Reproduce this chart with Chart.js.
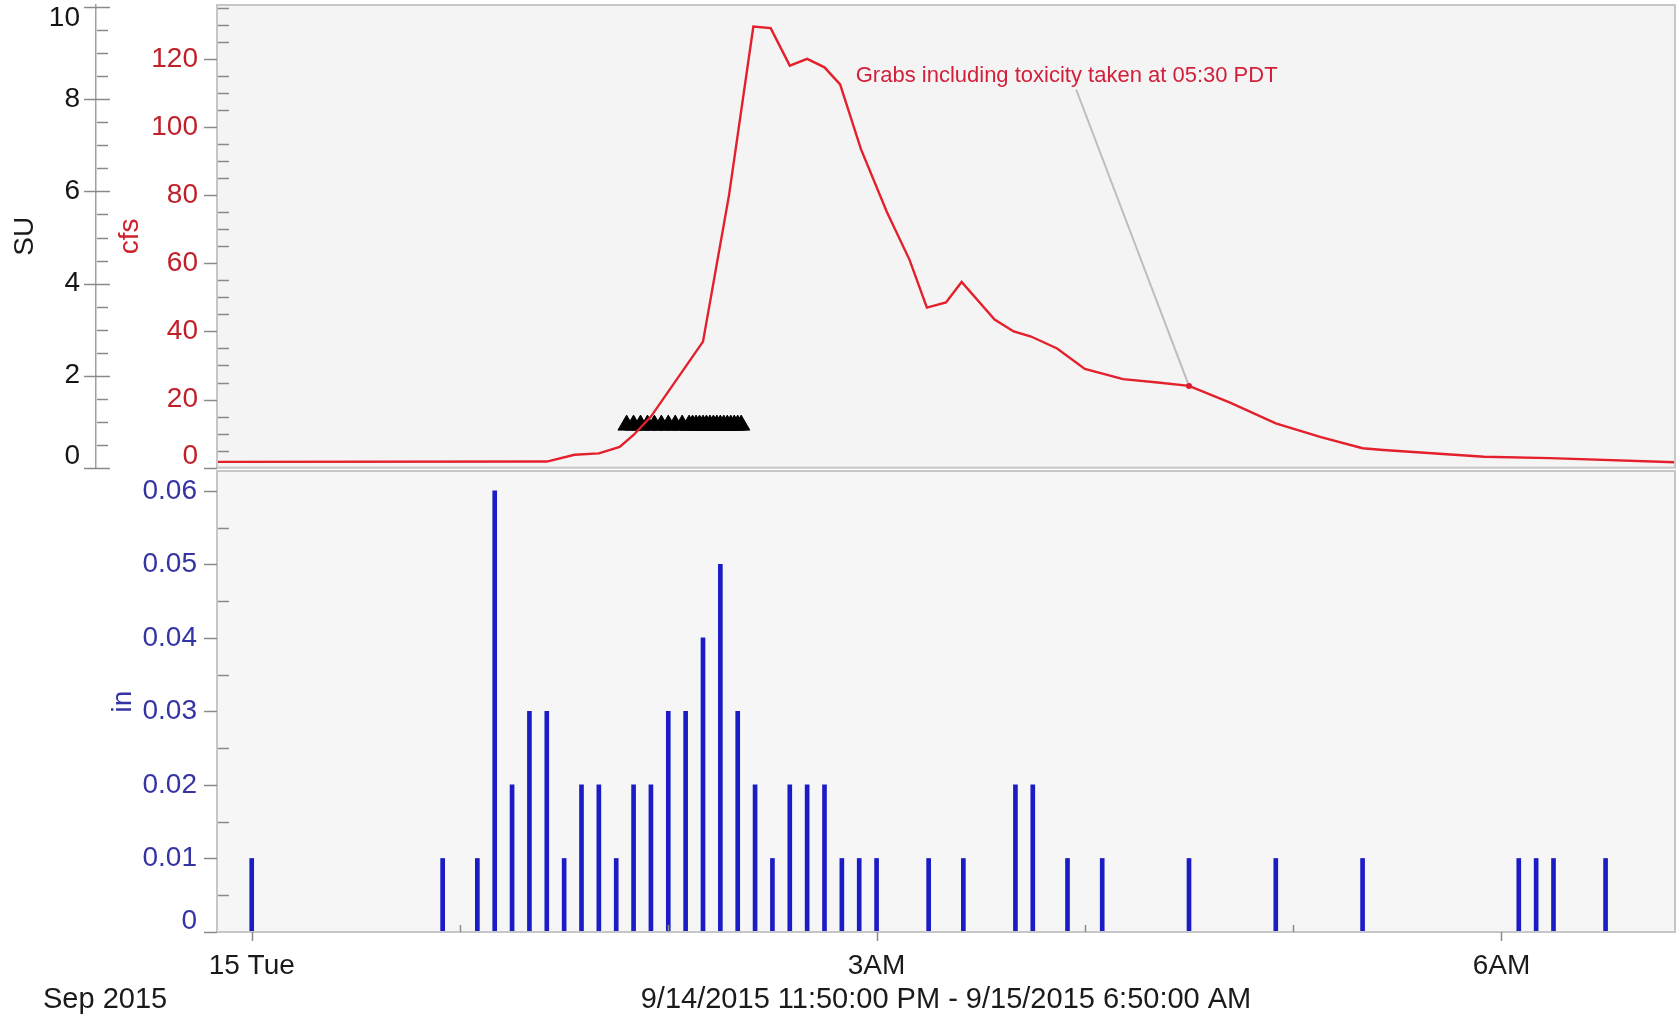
<!DOCTYPE html>
<html lang="en">
<head>
<meta charset="UTF-8">
<title>Flow and rainfall, 15 Sep 2015</title>
<script src="https://cdn.jsdelivr.net/npm/chart.js@4"></script>
<style>
    html, body { margin: 0; padding: 0; background: #fff; }
    body { width: 1678px; height: 1021px; position: relative; overflow: hidden; }
    canvas { position: absolute; left: 0; }
    #flowChart { top: 0; }
    #rainChart { top: 470px; }
</style>
</head>
<body>
<canvas id="flowChart" width="1678" height="470"></canvas>
<canvas id="rainChart" width="1678" height="551"></canvas>
<script>
// time is in minutes after midnight on 15 Sep (negative = 14 Sep)
const xRange = [-10, 410];
const xTickMinutes = [0, 180, 360];
const xTickLabels = ['15 Tue', '3AM', '6AM'];

// flow, cfs
const flowMinutes = [-10, 85, 93, 100, 106, 110, 115, 130, 137.5, 144.5,
    149.5, 155, 160, 165, 169.5, 175.5, 183, 189.5, 194.5, 200,
    204.5, 214, 219.5, 224.5, 232, 240, 251, 261, 270, 282,
    295, 308, 320, 326, 355, 374, 410];
const flowCfs = [1.7, 1.8, 3.8, 4.2, 6.1, 9.6, 15, 37, 80, 129.5,
    129, 118, 120, 117.5, 112.5, 93.5, 75, 61, 47, 48.5,
    54.5, 43.5, 40, 38.5, 35, 29, 26, 25, 24, 19,
    13, 9, 5.7, 5.2, 3.2, 2.8, 1.6];

// sampler events, shown as triangles
const sampleMinutes = [108, 110, 112, 114, 116, 118, 120, 122, 124, 126, 127, 128, 129,
    130, 131, 132, 133, 134, 135, 136, 137, 138, 139, 140, 141];
const sampleLevel = 12.5;

// 5-minute rainfall, inches
const rainTimes = ['00:00', '00:55', '01:05', '01:10', '01:15', '01:20', '01:25', '01:30',
    '01:35', '01:40', '01:45', '01:50', '01:55', '02:00', '02:05', '02:10', '02:15', '02:20',
    '02:25', '02:30', '02:35', '02:40', '02:45', '02:50', '02:55', '03:00', '03:15', '03:25',
    '03:40', '03:45', '03:55', '04:05', '04:30', '04:55', '05:20', '06:05', '06:10', '06:15', '06:30'];
const rainInches = [0.01, 0.01, 0.01, 0.06, 0.02, 0.03, 0.03, 0.01,
    0.02, 0.02, 0.01, 0.02, 0.02, 0.03, 0.03, 0.04, 0.05, 0.03,
    0.02, 0.01, 0.02, 0.02, 0.02, 0.01, 0.01, 0.01, 0.01, 0.01,
    0.02, 0.02, 0.01, 0.01, 0.01, 0.01, 0.01, 0.01, 0.01, 0.01, 0.01];

const suTicks = [0, 2, 4, 6, 8, 10];
const cfsTicks = [0, 20, 40, 60, 80, 100, 120];
const inTicks = [0, 0.01, 0.02, 0.03, 0.04, 0.05, 0.06];

// note on the flow panel
const grabNote = 'Grabs including toxicity taken at 05:30 PDT';
const grabMinute = 270;
const notePos = { t: 174, cfs: 115 };
const leaderStart = { t: 237.5, cfs: 111 };

const FONT = '"Liberation Sans", Arial, sans-serif';
const EDGE_SHIFT = 11;   // labels at the panel edges are pulled inside

function toMinutes(hhmm) {
    const [h, m] = hhmm.split(':').map(Number);
    const mins = h * 60 + m;
    return h >= 12 ? mins - 1440 : mins;
}

function fixedTicks(values) {
    return scale => { scale.ticks = values.map(v => ({ value: v })); };
}

// fix an axis box size and stop edge labels from shrinking the plot
function boxSize(prop, size) {
    return s => {
        s[prop] = size;
        s.paddingTop = 0;
        s.paddingBottom = 0;
        s.paddingLeft = 0;
        s.paddingRight = 0;
    };
}

// plot background and frame
const panelFrame = {
    id: 'panelFrame',
    beforeDraw(chart, args, opts) {
        const { ctx, chartArea: a } = chart;
        ctx.save();
        ctx.fillStyle = opts.fill;
        ctx.fillRect(a.left, a.top, a.right - a.left, a.bottom - a.top);
        ctx.restore();
    },
    afterDraw(chart) {
        const { ctx, chartArea: a } = chart;
        ctx.save();
        ctx.strokeStyle = '#c6c6c6';
        ctx.lineWidth = 2;
        ctx.strokeRect(a.left, a.top, a.right - a.left, a.bottom - a.top);
        ctx.restore();
    }
};

// tick marks: major ticks outside the axis line, minor ones inside
function yTicks(ctx, scale, major, minor, lineX, majorSpan, minorSpan) {
    ctx.lineWidth = 1.5;
    ctx.strokeStyle = '#8a8a8a';
    for (let v = scale.min; v <= scale.max + 1e-9; v += minor) {
        const y = Math.round(scale.getPixelForValue(v)) + 0.5;
        const isMajor = Math.abs(v / major - Math.round(v / major)) < 1e-6;
        const span = isMajor ? majorSpan : minorSpan;
        ctx.beginPath();
        ctx.moveTo(lineX + span[0], y);
        ctx.lineTo(lineX + span[1], y);
        ctx.stroke();
    }
}

// a y-axis label that sits at a panel edge, nudged inwards by dy
function edgeLabel(ctx, scale, value, dy) {
    const o = scale.options.ticks;
    ctx.fillStyle = o.color;
    ctx.font = o.font.size + 'px ' + FONT;
    ctx.textAlign = 'right';
    ctx.textBaseline = 'middle';
    ctx.fillText(String(value), scale.right - o.padding, scale.getPixelForValue(value) + dy);
}

const axisMarks = {
    id: 'axisMarks',
    afterDraw(chart) {
        const { ctx, scales } = chart;
        ctx.save();
        if (scales.su) {
            yTicks(ctx, scales.su, 2, 0.5, scales.su.right, [-12, 14], [1, 12]);
            yTicks(ctx, scales.cfs, 20, 5, scales.cfs.right, [-13, 0], [1, 12]);
            edgeLabel(ctx, scales.su, 0, -EDGE_SHIFT);
            edgeLabel(ctx, scales.su, 10, EDGE_SHIFT);
            edgeLabel(ctx, scales.cfs, 0, -EDGE_SHIFT);
        }
        if (scales.inch) {
            yTicks(ctx, scales.inch, 0.01, 0.005, scales.inch.right, [-13, 0], [1, 12]);
            edgeLabel(ctx, scales.inch, 0, -EDGE_SHIFT);
            const xs = scales.x;
            const base = chart.chartArea.bottom;
            ctx.strokeStyle = '#8a8a8a';
            ctx.lineWidth = 1.5;
            for (let t = 0; t <= xs.max; t += 60) {
                const x = Math.round(xs.getPixelForValue(t)) + 0.5;
                const major = xTickMinutes.includes(t);
                ctx.beginPath();
                ctx.moveTo(x, major ? base + 9 : base - 7);
                ctx.lineTo(x, base);
                ctx.stroke();
            }
            ctx.fillStyle = '#1a1a1a';
            ctx.font = '29px ' + FONT;
            ctx.textBaseline = 'middle';
            ctx.textAlign = 'left';
            ctx.fillText('Sep 2015', 43, 530);
        }
        ctx.restore();
    }
};

const grabLabel = {
    id: 'grabLabel',
    afterDatasetsDraw(chart) {
        const { ctx, scales: { x, cfs } } = chart;
        const grabCfs = flowCfs[flowMinutes.indexOf(grabMinute)];
        const px = x.getPixelForValue(grabMinute), py = cfs.getPixelForValue(grabCfs);
        ctx.save();
        ctx.strokeStyle = '#bdbdbd';
        ctx.lineWidth = 2;
        ctx.beginPath();
        ctx.moveTo(x.getPixelForValue(leaderStart.t), cfs.getPixelForValue(leaderStart.cfs));
        ctx.lineTo(px, py);
        ctx.stroke();
        ctx.fillStyle = '#d81e2e';
        ctx.beginPath();
        ctx.arc(px, py, 3, 0, Math.PI * 2);
        ctx.fill();
        ctx.font = '22px ' + FONT;
        ctx.textBaseline = 'middle';
        ctx.fillStyle = '#d3203a';
        ctx.fillText(grabNote, x.getPixelForValue(notePos.t), cfs.getPixelForValue(notePos.cfs));
        ctx.restore();
    }
};

const tickFont = { family: FONT, size: 28 };
// edge values are drawn by axisMarks instead
const innerOnly = (lo, hi) => v => (v === lo || v === hi) ? '' : String(v);

new Chart(document.getElementById('flowChart'), {
    type: 'line',
    data: {
        datasets: [
            {
                label: 'Flow',
                yAxisID: 'cfs',
                data: flowMinutes.map((t, i) => ({ x: t, y: flowCfs[i] })),
                borderColor: '#e3202b',
                borderWidth: 2.4,
                pointRadius: 0,
                tension: 0
            },
            {
                label: 'Samples',
                yAxisID: 'cfs',
                data: sampleMinutes.map(t => ({ x: t, y: sampleLevel })),
                showLine: false,
                pointStyle: 'triangle',
                pointRadius: 10,
                backgroundColor: '#000',
                borderColor: '#000',
                borderWidth: 1
            }
        ]
    },
    options: {
        responsive: false,
        animation: false,
        layout: { autoPadding: false, padding: { top: 5, right: 3, bottom: 2.3, left: 0 } },
        plugins: {
            legend: { display: false },
            tooltip: { enabled: false },
            panelFrame: { fill: '#f4f4f4' }
        },
        scales: {
            x: { type: 'linear', min: xRange[0], max: xRange[1], display: false },
            cfs: {
                type: 'linear', position: 'left', weight: 0,
                min: 0, max: 135.8,
                afterFit: boxSize('width', 121),
                afterBuildTicks: fixedTicks(cfsTicks),
                ticks: { color: '#c0202a', font: tickFont, padding: 19, callback: innerOnly(0, null) },
                grid: { drawOnChartArea: false, drawTicks: false },
                border: { display: true, color: '#a0a0a0', width: 1.5 },
                title: { display: true, text: 'cfs', color: '#d0202c', font: tickFont, padding: { top: 17, bottom: 0 } }
            },
            su: {
                type: 'linear', position: 'left', weight: 1,
                min: 0, max: 10.05,
                afterFit: boxSize('width', 96),
                afterBuildTicks: fixedTicks(suTicks),
                ticks: { color: '#151515', font: tickFont, padding: 16, callback: innerOnly(0, 10) },
                grid: { drawOnChartArea: false, drawTicks: false },
                border: { display: true, color: '#a0a0a0', width: 1.5 },
                title: { display: true, text: 'SU', color: '#1a1a1a', font: tickFont, padding: { top: 8, bottom: 0 } }
            }
        }
    },
    plugins: [panelFrame, axisMarks, grabLabel]
});

new Chart(document.getElementById('rainChart'), {
    type: 'bar',
    data: {
        datasets: [{
            label: 'Rainfall',
            yAxisID: 'inch',
            data: rainTimes.map((t, i) => ({ x: toMinutes(t), y: rainInches[i] })),
            backgroundColor: '#1c1cc6',
            barThickness: 4,
            borderWidth: 0
        }]
    },
    options: {
        responsive: false,
        animation: false,
        layout: { autoPadding: false, padding: { top: 1, right: 3, bottom: 0, left: 0 } },
        plugins: {
            legend: { display: false },
            tooltip: { enabled: false },
            panelFrame: { fill: '#f6f6f6' }
        },
        scales: {
            x: {
                type: 'linear', min: xRange[0], max: xRange[1], offset: false,
                afterFit: boxSize('height', 89),
                afterBuildTicks: fixedTicks(xTickMinutes),
                ticks: {
                    autoSkip: false, maxRotation: 0, color: '#1a1a1a', font: tickFont, padding: 17,
                    callback: v => xTickLabels[xTickMinutes.indexOf(v)]
                },
                grid: { display: false, drawTicks: false },
                border: { display: true, color: '#a8a8a8', width: 2 },
                title: {
                    display: true, text: '9/14/2015 11:50:00 PM - 9/15/2015 6:50:00 AM',
                    color: '#1a1a1a', font: { family: FONT, size: 29 }, padding: { top: 0, bottom: 4 }
                }
            },
            inch: {
                type: 'linear', position: 'left',
                min: 0, max: 0.0627,
                afterFit: boxSize('width', 217),
                afterBuildTicks: fixedTicks(inTicks),
                ticks: {
                    color: '#3434a4', font: tickFont, padding: 20,
                    callback: v => v === 0 ? '' : v.toFixed(2)
                },
                grid: { drawOnChartArea: false, drawTicks: false },
                border: { display: true, color: '#a0a0a0', width: 1.5 },
                title: { display: true, text: 'in', color: '#3434a4', font: tickFont, padding: { top: 106, bottom: 0 } }
            }
        }
    },
    plugins: [panelFrame, axisMarks]
});
</script>
</body>
</html>
